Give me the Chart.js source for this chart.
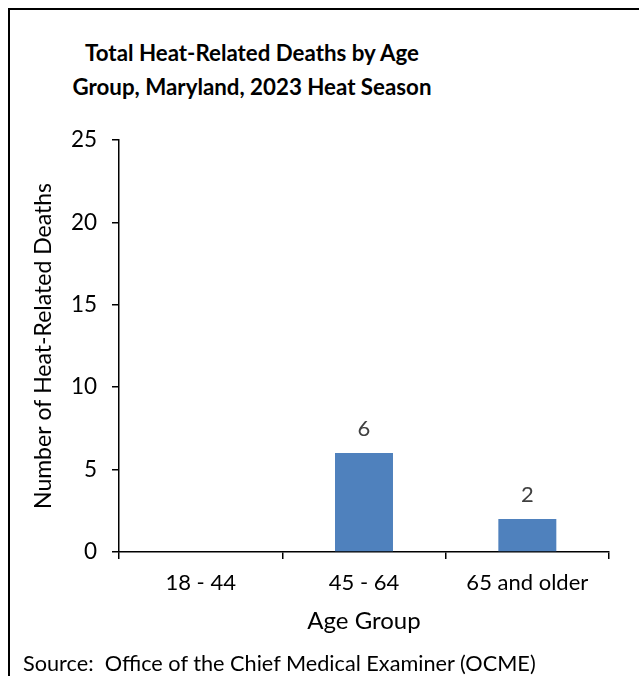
<!DOCTYPE html>
<html>
<head>
<meta charset="utf-8">
<script src="https://cdn.jsdelivr.net/npm/chart.js@4.4.1/dist/chart.umd.min.js"></script>
<style>
  body { margin: 0; background: #fff; }
  #wrap { position: relative; width: 639px; height: 676px; overflow: hidden; font-family: Lato, sans-serif; }
  #frame { position: absolute; left: 8px; top: 8px; width: 700px; height: 700px; border-left: 2px solid #000; border-top: 2px solid #000; }
  #title { position: absolute; left: 40px; width: 424px; top: 36px; text-align: center; font-weight: bold; font-size: 22.3px; line-height: 34px; color: #000; }
  #source { position: absolute; left: 23px; top: 651px; font-size: 21.7px; line-height: 24px; color: #000; white-space: nowrap; }
  canvas { position: absolute; left: 0; top: 0; }
</style>
</head>
<body>
<div id="wrap">
  <div id="frame"></div>
  <div id="title">Total Heat-Related Deaths by Age<br>Group, Maryland, 2023 Heat Season</div>
  <canvas id="chart" width="639" height="676"></canvas>
  <div id="source">Source:&nbsp; Office of the Chief Medical Examiner (OCME)</div>
</div>
<script>
const ageGroups = ['18 - 44', '45 - 64', '65 and older'];
const deaths = [0, 6, 2];
const yTicks = [0, 5, 10, 15, 20, 25];

// etiquetas de valor encima de cada barra
const valueLabels = {
  id: 'valueLabels',
  afterDatasetsDraw(chart) {
    const ctx = chart.ctx;
    const meta = chart.getDatasetMeta(0);
    ctx.save();
    ctx.font = '22px Lato, sans-serif';
    ctx.fillStyle = '#404040';
    ctx.textAlign = 'center';
    ctx.textBaseline = 'middle';
    meta.data.forEach((bar, i) => {
      if (deaths[i] === 0) return;
      ctx.fillText(String(deaths[i]), bar.x, bar.y - 24);
    });
    ctx.restore();
  }
};

new Chart('chart', {
  type: 'bar',
  data: {
    labels: ageGroups,
    datasets: [{
      data: deaths,
      backgroundColor: '#4F81BD',
      barPercentage: 0.355,
      categoryPercentage: 1
    }]
  },
  options: {
    responsive: false,
    animation: false,
    devicePixelRatio: 1,
    layout: { padding: { top: 140, left: 20, right: 30, bottom: 40 } },
    plugins: {
      legend: { display: false },
      tooltip: { enabled: false }
    },
    scales: {
      x: {
        grid: { display: true, drawOnChartArea: false, drawTicks: true, tickLength: 7, color: '#000', lineWidth: 1.5, offset: true },
        border: { display: true, color: '#000', width: 1.5 },
        ticks: { color: '#000', padding: 11, font: { family: 'Lato', size: 22 } },
        title: { display: true, text: 'Age Group', color: '#000', font: { family: 'Lato', size: 24 }, padding: { top: 0, bottom: 0 } },
        afterFit(scale) { scale.height = 84; }
      },
      y: {
        min: 0,
        max: 25,
        afterBuildTicks(scale) { scale.ticks = yTicks.map((v) => ({ value: v })); },
        grid: { display: true, drawOnChartArea: false, drawTicks: true, tickLength: 7, color: '#000', lineWidth: 1.5 },
        border: { display: true, color: '#000', width: 1.5 },
        ticks: { color: '#000', padding: 15, font: { family: 'Lato', size: 22.5 } },
        title: { display: true, text: 'Number of Heat-Related Deaths', color: '#000', font: { family: 'Lato', size: 23 }, padding: { top: 10, bottom: 0 } },
        afterFit(scale) { scale.width = 99; }
      }
    }
  },
  plugins: [valueLabels]
});
</script>
</body>
</html>
